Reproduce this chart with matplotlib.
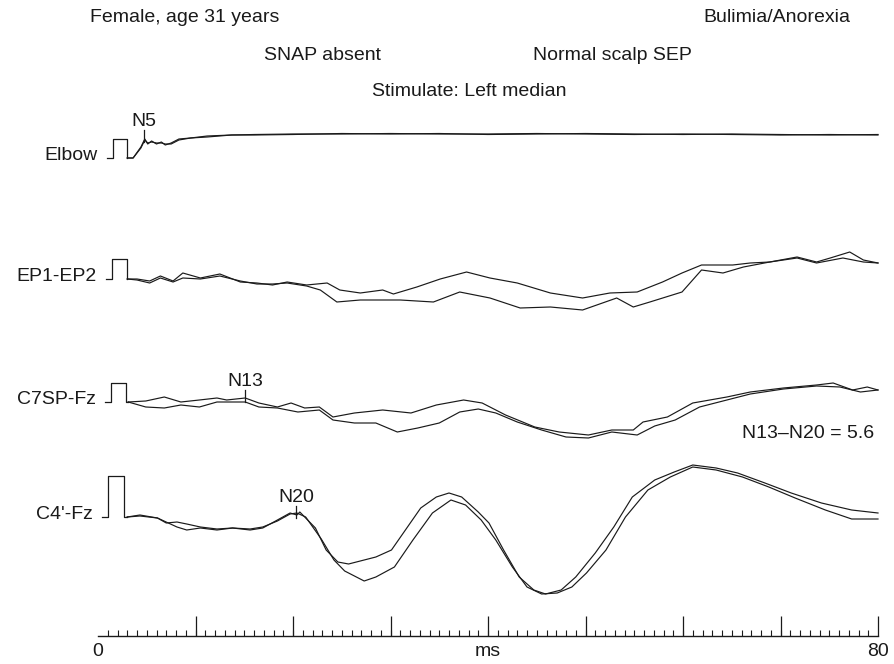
import matplotlib
matplotlib.use("Agg")
import matplotlib.pyplot as plt
import numpy as np

plt.rcParams["font.family"] = ["Liberation Sans", "DejaVu Sans"]

# -----------------------------------------------------------------------------
# DATA  (time in ms, deflection in display units, upward positive)
# -----------------------------------------------------------------------------
channels = ["Elbow", "EP1-EP2", "C7SP-Fz", "C4'-Fz"]

# calibration pulse for each channel: stub start, rise, fall (ms), height
pulse_start = [0.9, 0.8, 0.7, 0.4]
pulse_on = [1.5, 1.4, 1.3, 1.0]
pulse_off = [3.0, 3.0, 2.9, 2.7]
pulse_height = [19, 20, 19, 41]

elbow_t = [3.0, 3.6, 4.4, 4.8, 5.1, 5.5, 6.0, 6.5, 6.9, 7.5, 8.3, 9.5, 11.2,
           13.7, 16, 20, 25, 30, 35, 40, 45, 50, 55, 60, 65, 70, 75, 80]
elbow_v1 = [0, 0, 11, 19, 14, 17, 14, 16, 13, 15, 19, 20, 22, 23, 23.5, 24,
            24, 24.5, 24, 24, 24.5, 24, 23.5, 24, 23.5, 23, 23.5, 23]
elbow_v2 = [0, 0, 10, 18, 15, 16, 15, 15, 14, 14, 18, 20, 21, 23, 23, 23.5,
            24.5, 24, 24.5, 23.5, 24, 24.5, 24, 23.5, 24, 23.5, 23, 23.5]

ep_t1 = [3.0, 4.0, 5.3, 6.4, 7.7, 8.7, 10.5, 12.5, 14.6, 16.3, 17.9, 19.4,
         21.4, 23.5, 24.8, 26.9, 29.2, 30.3, 32.7, 35.1, 37.8, 40.2, 43.0,
         46.4, 49.7, 52.5, 55.3, 57.9, 59.9, 61.9, 65.1, 66.9, 68.9, 71.7,
         73.7, 75.1, 77.1, 78.5, 80.0]
ep_v1 = [0, 0, -2, 3, -2, 6, 1, 5, -3, -4, -6, -3, -6, -4, -11, -14, -11,
         -15, -8, 0, 7, 1, -4, -14, -19, -14, -13, -3, 6, 14, 14, 16, 17, 22,
         17, 21, 27, 19, 16]
ep_t2 = [3.0, 4.0, 5.3, 6.4, 7.7, 8.7, 10.5, 12.5, 14.6, 16.3, 17.9, 19.4,
         21.4, 22.8, 24.5, 26.9, 31.0, 34.4, 37.1, 40.2, 43.3, 46.4, 49.7,
         53.2, 54.9, 56.6, 59.9, 61.9, 64.1, 66.2, 68.9, 71.7, 73.7, 76.4,
         78.5, 80.0]
ep_v2 = [0, -1, -4, 1, -3, 1, 0, 3, -2, -5, -5, -4, -7, -11, -23, -21, -21,
         -23, -13, -19, -29, -28, -31, -19, -28, -23, -13, 9, 6, 12, 17, 21,
         16, 21, 17, 16]

c7_t1 = [3.1, 4.9, 6.8, 8.5, 10.4, 12.2, 13.2, 15.1, 16.5, 18.4, 19.8, 21.2,
         22.7, 24.1, 26.3, 29.2, 32.1, 34.7, 37.5, 39.4, 41.8, 44.8, 47.3,
         50.3, 52.7, 54.9, 55.9, 58.4, 61.0, 64.5, 66.9, 70.3, 73.7, 75.4,
         77.4, 78.9, 80.0]
c7_v1 = [0, 1, 5, 0, 2, 4, 2, 4, -1, -5, -1, -6, -5, -15, -11, -8, -11, -3,
         2, -1, -13, -25, -30, -33, -28, -28, -20, -15, -1, 5, 10, 14, 17, 19,
         12, 15, 12]
c7_t2 = [3.1, 4.9, 6.8, 8.5, 10.4, 12.2, 13.2, 15.1, 16.5, 18.4, 20.5, 22.7,
         24.1, 26.3, 28.5, 30.7, 32.8, 35.0, 37.1, 39.0, 40.8, 43.0, 45.5,
         48.0, 50.3, 52.7, 55.3, 57.1, 59.2, 61.7, 64.5, 66.9, 70.3, 73.7,
         76.1, 78.2, 80.0]
c7_v2 = [0, -5, -6, -3, -5, 0, 0, 0, -5, -6, -10, -8, -18, -21, -21, -30,
         -26, -21, -10, -7, -11, -20, -28, -35, -36, -30, -33, -24, -18, -5,
         2, 8, 13, 16, 15, 10, 12]

c4_t1 = [3.0, 4.3, 6.1, 8.1, 9.1, 10.5, 12.2, 13.8, 15.6, 16.9, 18.4, 19.7,
         20.4, 20.7, 22.3, 23.4, 24.6, 25.7, 26.9, 28.5, 30.1, 31.6, 33.1,
         34.7, 36.0, 37.3, 39.0, 40.1, 41.6, 43.2, 44.7, 45.9, 47.5, 49.0,
         51.0, 52.9, 54.8, 57.1, 59.1, 61.0, 63.4, 65.6, 68.4, 71.1, 74.2,
         77.3, 80.0]
c4_v1 = [0, 2, -1, -10, -13, -11, -13, -11, -13, -11, -3, 4, 2, 5, -11, -33,
         -45, -47, -44, -40, -33, -12, 9, 20, 24, 20, 5, -6, -33, -60, -73,
         -77, -73, -60, -36, -10, 20, 37, 45, 52, 49, 44, 34, 24, 14, 7, 4]
c4_t2 = [3.0, 4.3, 6.1, 7.0, 8.1, 9.1, 10.5, 12.2, 13.8, 15.6, 16.9, 18.4,
         19.7, 20.4, 21.3, 22.9, 24.2, 25.3, 27.3, 28.5, 30.4, 32.3, 34.3,
         36.2, 37.7, 39.3, 40.8, 42.5, 44.0, 45.5, 47.1, 48.6, 50.1, 52.1,
         54.1, 56.4, 58.7, 61.0, 63.4, 66.1, 68.8, 71.5, 74.6, 77.3, 80.0]
c4_v2 = [0, 1, -1, -6, -5, -7, -10, -12, -11, -12, -10, -4, 3, 4, 0, -22,
         -43, -54, -64, -60, -50, -23, 4, 17, 12, -3, -23, -50, -70, -77, -76,
         -70, -56, -33, 0, 27, 40, 50, 47, 40, 30, 19, 7, -2, -2]

sweeps = [
    [(elbow_t, elbow_v1), (elbow_t, elbow_v2)],
    [(ep_t1, ep_v1), (ep_t2, ep_v2)],
    [(c7_t1, c7_v1), (c7_t2, c7_v2)],
    [(c4_t1, c4_v1), (c4_t2, c4_v2)],
]

# peak markers: label, channel, latency (ms), deflection at tick foot
peak_names = ["N5", "N13", "N20"]
peak_chan = [0, 2, 3]
peak_t = [4.7, 15.1, 20.3]
peak_v = [16, 0, -1]

# -----------------------------------------------------------------------------
# LAYOUT
# -----------------------------------------------------------------------------
W, H = 894, 664
X0, PX_MS = 98, 9.75                 # pixel of 0 ms, pixels per ms
base_row = [158, 279, 402, 517]      # baseline row of each channel
scale_row = 635.5
INK = "#1a1a1a"
FS = 14

fig = plt.figure(figsize=(W / 100, H / 100), dpi=100)
ax = fig.add_axes([0, 0, 1, 1])
ax.set_xlim(-X0 / PX_MS, (W - X0) / PX_MS)
ax.set_ylim(H, 0)
ax.axis("off")

for i, name in enumerate(channels):
    b = base_row[i]
    # calibration pulse
    pt = [pulse_start[i], pulse_on[i], pulse_on[i], pulse_off[i], pulse_off[i],
          sweeps[i][0][0][0]]
    pv = [0, 0, pulse_height[i], pulse_height[i], 0, 0]
    ax.plot(pt, [b - v for v in pv], color=INK, lw=0.9)
    # two superimposed sweeps
    for t, v in sweeps[i]:
        ax.plot(t, [b - y for y in v], color=INK, lw=0.85)
    ax.text(pulse_start[i] - 0.9, b + 2, name, ha="right", va="baseline",
            fontsize=FS, color=INK)

for name, ch, t, v in zip(peak_names, peak_chan, peak_t, peak_v):
    y0 = base_row[ch] - v
    ax.plot([t, t], [y0, y0 - 12], color=INK, lw=0.9)
    ax.text(t, y0 - 16, name, ha="center", va="baseline", fontsize=FS,
            color=INK)

# time scale 0-80 ms
ax.plot([0, 80], [scale_row, scale_row], color=INK, lw=1.0)
minor = np.arange(1, 80)
major = np.arange(10, 81, 10)
ax.vlines(minor, scale_row, scale_row - 6, color=INK, lw=0.8)
ax.vlines(major, scale_row, scale_row - 20, color=INK, lw=0.9)
for t, s in [(0, "0"), (40, "ms"), (80, "80")]:
    ax.text(t, 652, s, ha="center", va="center", fontsize=FS, color=INK)

# header texts
def ftext(x, y, s, ha="left"):
    fig.text(x / W, 1 - y / H, s, ha=ha, va="center", fontsize=FS, color=INK)

ftext(90, 18, "Female, age 31 years")
ftext(850, 18, "Bulimia/Anorexia", ha="right")
ftext(322, 56, "SNAP absent", ha="center")
ftext(612, 56, "Normal scalp SEP", ha="center")
ftext(469, 92, "Stimulate: Left median", ha="center")
ftext(874, 433, "N13\u2013N20 = 5.6", ha="right")

fig.savefig("out.png", dpi=100, facecolor="white")
